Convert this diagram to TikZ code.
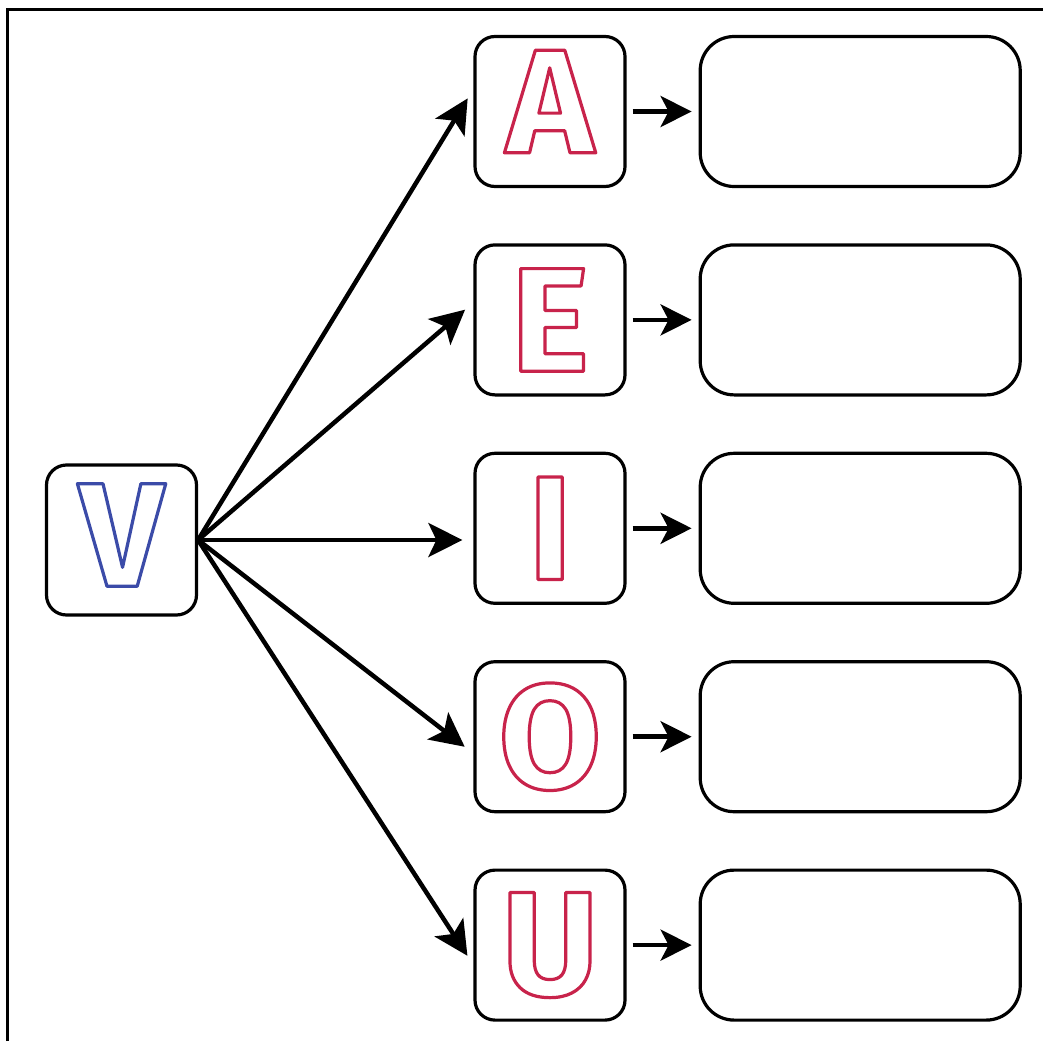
\documentclass[tikz,border=0pt]{standalone}
\usepackage{fontspec}
\usetikzlibrary{positioning,arrows.meta}
\newfontfamily\letterfont{Fira Sans}
\definecolor{vowel}{HTML}{C8234B}
\definecolor{consonant}{HTML}{3B4BA8}
\newcommand{\hollow}[3][0pt]{{\letterfont\bfseries\fontsize{148}{148}\selectfont
                         \color{#2}\raisebox{#1}[\height][\depth]{%
                         \special{pdf:literal direct 3.2 w 1 j 1 Tr}#3%
                         \special{pdf:literal direct 0 Tr}}}}
\begin{document}
\begin{tikzpicture}
\tikzset{key/.style={draw,line width=3.2pt,
                     rounded corners=20pt,
                     minimum width=150pt,
                     minimum height=150pt,
                     inner sep=0pt},
         answer/.style={draw,line width=3.2pt,
                        rounded corners=34pt,
                        minimum width=320pt,
                        minimum height=150pt},
         link/.style={line width=4.5pt,shorten >=11pt,
                      -{Stealth[length=34pt,width=34pt,inset=8pt]}},
         pointer/.style={line width=4.5pt,shorten <=6pt,shorten >=7pt,
                         -{Stealth[length=31pt,width=31pt,inset=8pt]}}
}
\useasboundingbox (0,0) rectangle (1043pt,-1041pt);
\draw[line width=3pt] (7pt,-1041pt) -- (7pt,-10pt) -- (1043pt,-10pt);
\node[key] (V) at (121.5pt,-540pt) {\hollow[5pt]{consonant}{V}};
\node[key] (A) at (550pt,-111.5pt) {\hollow[10pt]{vowel}{A}};
\node[key,below=55.2pt of A] (E) {\hollow{vowel}{E}};
\node[key,below=55.2pt of E] (I) {\hollow{vowel}{I}};
\node[key,below=55.2pt of I] (O) {\hollow{vowel}{O}};
\node[key,below=55.2pt of O] (U) {\hollow{vowel}{U}};
\node[answer,right=72pt of A] (a) {};
\node[answer,right=72pt of E] (e) {};
\node[answer,right=72pt of I] (i) {};
\node[answer,right=72pt of O] (o) {};
\node[answer,right=72pt of U] (u) {};
\draw[link] (V.east) -- ([yshift=22.5pt]A.west);
\draw[link] (V.east) -- ([yshift=17.4pt]E.west);
\draw[link] (V.east) -- (V.east-|I.west);
\draw[link] (V.east) -- ([yshift=-16.8pt]O.west);
\draw[link] (V.east) -- ([yshift=-19.9pt]U.west);
\draw[pointer] (A) -- (a);
\draw[pointer] (E) -- (e);
\draw[pointer] (I) -- (i);
\draw[pointer] (O) -- (o);
\draw[pointer] (U) -- (u);
\end{tikzpicture}
\end{document}
